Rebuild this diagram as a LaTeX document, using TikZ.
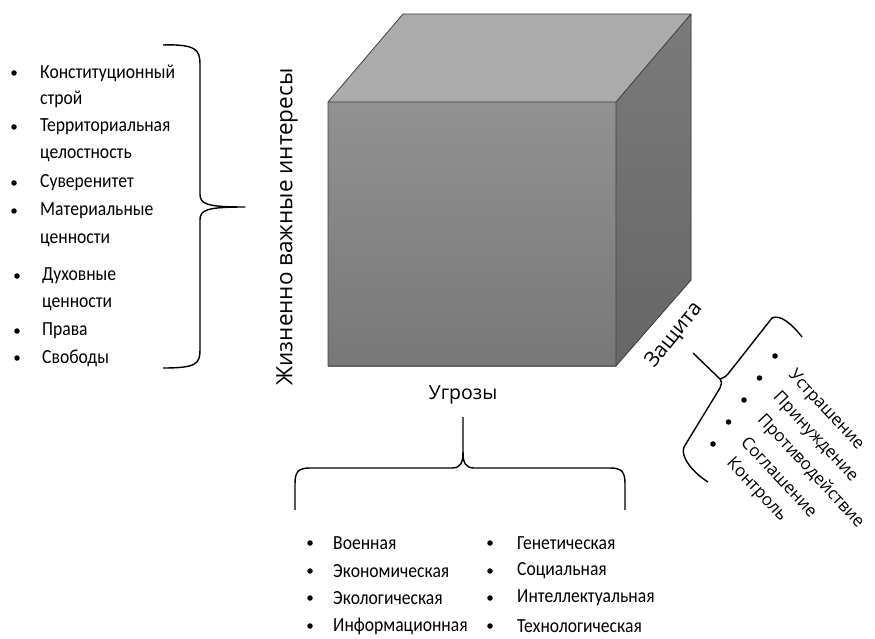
\documentclass[tikz,border=0pt]{standalone}
\usepackage{fontspec}
\setmainfont[FakeStretch=0.88]{Carlito}
\newfontfamily\labelfont{Open Sans}

\begin{document}
\begin{tikzpicture}[x=1pt,y=-1pt,
    item/.style={anchor=west, inner sep=0pt, font=\fontsize{20}{24}\selectfont},
    dot/.style={circle, fill=black, inner sep=0pt, minimum size=5.5pt},
    axis/.style={inner sep=0pt, font=\labelfont\fontsize{19.5}{22}\selectfont},
    rlist/.style={anchor=west, inner sep=0pt, rotate=-47, font=\labelfont\fontsize{17}{20}\selectfont},
    brace/.style={line width=1.4pt, line join=round}]
\useasboundingbox (0,0) rectangle (875,639);

\coordinate (a) at (328,102);
\coordinate (b) at (616,102);
\coordinate (c) at (616,366);
\coordinate (d) at (328,366);
\coordinate (e) at (403,14);
\coordinate (f) at (691,14);
\coordinate (g) at (691,280);
\fill[top color=black!43, bottom color=black!53] (a) -- (b) -- (c) -- (d) -- cycle;
\fill[black!33] (a) -- (e) -- (f) -- (b) -- cycle;
\fill[top color=black!52, bottom color=black!60] (b) -- (f) -- (g) -- (c) -- cycle;
\draw[black!75, line width=0.8pt, line join=round] (a) -- (b) -- (c) -- (d) -- cycle (a) -- (e) -- (f) -- (b) (f) -- (g) -- (c);

\node[dot] (d1) at (14,73) {};
\node[item] (i1) at (40,73) {Конституционный};
\node[item] (i1b) at (40,99) {строй};
\node[dot] (d2) at (14,127) {};
\node[item] (i2) at (40,127) {Территориальная};
\node[item] (i2b) at (40,155) {целостность};
\node[dot] (d3) at (14,183) {};
\node[item] (i3) at (40,183) {Суверенитет};
\node[dot] (d4) at (14,211) {};
\node[item] (i4) at (40,211) {Материальные};
\node[item] (i4b) at (40,240) {ценности};
\node[dot] (d5) at (17,276) {};
\node[item] (i5) at (42,276) {Духовные};
\node[item] (i5b) at (42,304) {ценности};
\node[dot] (d6) at (17,331) {};
\node[item] (i6) at (42,331) {Права};
\node[dot] (d7) at (17,358) {};
\node[item] (i7) at (42,358) {Свободы};

\draw[brace] (163,45) .. controls (196,44) and (200,50) .. (200,64) -- (200,194) .. controls (200,204) and (206,207) .. (245,207)
  .. controls (206,207) and (200,210) .. (200,220) -- (200,350) .. controls (200,364) and (196,368) .. (163,368);

\node[axis, rotate=90, font=\labelfont\fontsize{22.5}{26}\selectfont] (life) at (287,227) {Жизненно важные интересы};

\node[axis] (threat) at (463,395) {Угрозы};
\draw[brace] (295,510) -- (295,484) .. controls (295,472) and (298,468) .. (310,468) -- (452,468) .. controls (461,468) and (463,462) .. (463,452) -- (463,417);
\draw[brace] (463,452) .. controls (463,462) and (465,468) .. (474,468) -- (610,468) .. controls (622,468) and (625,472) .. (625,484) -- (625,510);

\node[dot] (t1) at (310,543) {};
\node[item] (th1) at (333,543) {Военная};
\node[dot] (t2) at (310,571) {};
\node[item] (th2) at (333,571) {Экономическая};
\node[dot] (t3) at (310,598) {};
\node[item] (th3) at (333,598) {Экологическая};
\node[dot] (t4) at (310,626) {};
\node[item] (th4) at (333,626) {Информационная};
\node[dot] (t5) at (490,543) {};
\node[item] (th5) at (517,543) {Генетическая};
\node[dot] (t6) at (490,571) {};
\node[item] (th6) at (517,571) {Социальная};
\node[dot] (t7) at (490,598) {};
\node[item] (th7) at (517,598) {Интеллектуальная};
\node[dot] (t8) at (490,626) {};
\node[item] (th8) at (517,626) {Технологическая};

\node[axis, rotate=51, font=\labelfont\fontsize{21}{24}\selectfont] (guard) at (674,335) {Защита};
\draw[brace] (802,337) .. controls (792,324) and (780,314) .. (772,318) -- (728,374) .. controls (725,377) .. (720,379);
\draw[brace] (693,353) -- (720,379) .. controls (722,382) .. (720,388) -- (684,447) .. controls (680,456) and (692,472) .. (708,482);

\foreach \t [count=\i from 0] in {Устрашение, Принуждение, Противодействие, Соглашение, Контроль} {
  \node[dot] (p\i) at (775-15.5*\i, 356+22*\i) {};
  \node[rlist] (q\i) at (791-15.5*\i, 373+22*\i) {\t};
}
\end{tikzpicture}
\end{document}
